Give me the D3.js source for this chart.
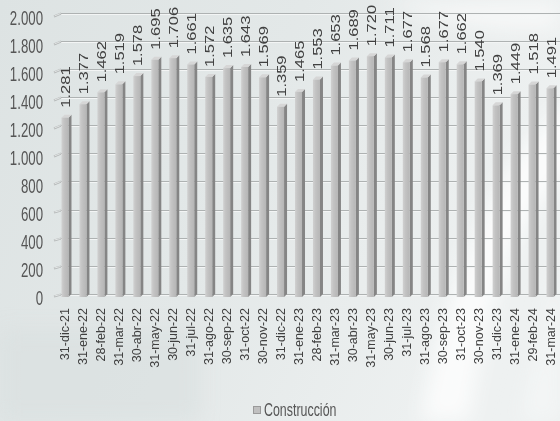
<!DOCTYPE html>
<html><head><meta charset="utf-8">
<script src="https://cdn.jsdelivr.net/npm/d3@7/dist/d3.min.js"></script>
<style>html,body{margin:0;padding:0;background:#e2e7e7;}svg{display:block;}</style>
</head><body>
<script>
const categories = ["31-dic-21","31-ene-22","28-feb-22","31-mar-22","30-abr-22","31-may-22","30-jun-22","31-jul-22","31-ago-22","30-sep-22","31-oct-22","30-nov-22","31-dic-22","31-ene-23","28-feb-23","31-mar-23","30-abr-23","31-may-23","30-jun-23","31-jul-23","31-ago-23","30-sep-23","31-oct-23","30-nov-23","31-dic-23","31-ene-24","29-feb-24","31-mar-24"];
const values = [1281,1377,1462,1519,1578,1695,1706,1661,1572,1635,1643,1569,1359,1465,1553,1653,1689,1720,1711,1677,1568,1677,1662,1540,1369,1449,1518,1491];
const yTicks = [0,200,400,600,800,1000,1200,1400,1600,1800,2000];
const seriesName = "Construcción";

const W = 560, H = 421;
const fmt = v => d3.format(",")(v).replace(/,/g, ".");
const svg = d3.select("body").append("svg").attr("width", W).attr("height", H);
const defs = svg.append("defs");

// background
const bg = defs.append("linearGradient").attr("id","bg").attr("x1",0).attr("y1",0).attr("x2",1).attr("y2",0.3);
bg.append("stop").attr("offset","0%").attr("stop-color","#dde3e3");
bg.append("stop").attr("offset","50%").attr("stop-color","#e3e8e8");
bg.append("stop").attr("offset","100%").attr("stop-color","#eef1f1");
svg.append("rect").attr("width",W).attr("height",H).attr("fill","url(#bg)");
const blur = defs.append("filter").attr("id","blur").attr("x","-50%").attr("y","-50%").attr("width","200%").attr("height","200%");
blur.append("feGaussianBlur").attr("stdDeviation",10);
const bgG = svg.append("g").attr("filter","url(#blur)");
bgG.append("path").attr("d","M600,80 Q470,150 420,421 L470,421 Q500,200 600,150 Z").attr("fill","#fafbfb");
bgG.append("path").attr("d","M380,0 Q470,40 560,30 L560,0 Z").attr("fill","#f7f9f9").attr("opacity",0.8);
bgG.append("path").attr("d","M560,250 Q540,330 520,421 L560,421 Z").attr("fill","#f3f5f5");
bgG.append("rect").attr("x",0).attr("y",330).attr("width",200).attr("height",91).attr("fill","#d9dfdf").attr("opacity",0.6);

// scales
const x = d3.scaleBand().domain(categories).range([56, 559]).paddingInner(0).paddingOuter(0);
const yFront = d3.scaleLinear().domain([0,2000]).range([297, 17]);
const yBack = d3.scaleLinear().domain([0,2000]).range([293.8, 13]);

// gridlines (back wall)
const grid = svg.append("g");
yTicks.forEach(t => {
  const yy = Math.round(yBack(t)) + 0.5;
  grid.append("line").attr("x1",61).attr("x2",W).attr("y1",yy+1).attr("y2",yy+1).attr("stroke","#f3f5f5").attr("stroke-width",1);
  grid.append("line").attr("x1",61).attr("x2",W).attr("y1",yy).attr("y2",yy).attr("stroke","#aeb2b2").attr("stroke-width",1);
  grid.append("line").attr("x1",54).attr("x2",61).attr("y1",yFront(t)-0.5).attr("y2",yy).attr("stroke","#b4b8b8").attr("stroke-width",2);
  grid.append("line").attr("x1",54.5).attr("x2",60.5).attr("y1",yFront(t)-1).attr("y2",yy).attr("stroke","#eef0f0").attr("stroke-width",0.8);
});

// y axis labels
const yAxis = d3.axisLeft(yFront).tickValues(yTicks).tickFormat(fmt).tickSize(0);
const yg = svg.append("g").attr("transform","translate(43,0)").call(yAxis);
yg.select(".domain").remove();
yg.selectAll(".tick text").each(function(d){
  const t = d3.select(this);
  t.attr("x",0).attr("dy",null).attr("y",0)
   .attr("transform",`translate(0,${7})scale(0.68,1)`)
   .attr("text-anchor","end").attr("fill","#555")
   .attr("font-family","'Liberation Sans', Arial, sans-serif").attr("font-size",19.5);
});

// bars
const front = defs.append("linearGradient").attr("id","front").attr("x1",0).attr("x2",1).attr("y1",0).attr("y2",0);
front.append("stop").attr("offset","0%").attr("stop-color","#d0d0d0");
front.append("stop").attr("offset","40%").attr("stop-color","#c2c2c2");
front.append("stop").attr("offset","100%").attr("stop-color","#b6b6b6");
const bars = svg.append("g");
const base = yFront(0);
const dx = 3, dy = 3, hw = 3.5;
categories.forEach((c,i) => {
  const v = values[i];
  const xc = x(c) + x.bandwidth()/2;
  const yt = yFront(v);
  const g = bars.append("g");
  g.append("polygon").attr("points",[[xc+hw,yt],[xc+hw+dx,yt-dy],[xc+hw+dx,base-dy],[xc+hw,base]].join(" ")).attr("fill","#858585");
  g.append("polygon").attr("points",[[xc-hw,yt],[xc-hw+dx,yt-dy],[xc+hw+dx,yt-dy],[xc+hw,yt]].join(" ")).attr("fill","#d6d6d6");
  g.append("rect").attr("x",xc-hw).attr("y",yt).attr("width",hw*2).attr("height",base-yt).attr("fill","url(#front)");
});

// value labels
const labels = svg.append("g").attr("font-family","'Liberation Sans', Arial, sans-serif").attr("font-size",16.5).attr("fill","#404040");
categories.forEach((c,i) => {
  const xc = x(c) + x.bandwidth()/2;
  labels.append("text").attr("transform",`translate(${xc+5.5},${yFront(values[i])-10})rotate(-90)scale(1,0.8)`)
    .attr("text-anchor","start").text(fmt(values[i]));
});

// x axis labels
const xAxis = d3.axisBottom(x).tickSize(0);
const xg = svg.append("g").attr("transform","translate(0,0)").call(xAxis);
xg.select(".domain").remove();
xg.selectAll(".tick").attr("transform", d => `translate(${x(d)+x.bandwidth()/2},0)`);
xg.selectAll(".tick text")
  .attr("x",0).attr("y",0).attr("dy",null)
  .attr("transform","translate(4.5,308)rotate(-90)")
  .attr("text-anchor","end").attr("fill","#404040")
  .attr("font-family","'Liberation Sans', Arial, sans-serif").attr("font-size",12.5);

// legend
const lg = svg.append("g");
lg.append("rect").attr("x",253.5).attr("y",406.5).attr("width",7).attr("height",7).attr("fill","#c0c0c0").attr("stroke","#9a9a9a").attr("stroke-width",1);
lg.append("text").attr("transform","translate(264,416)scale(0.69,1)").attr("font-family","'Liberation Sans', Arial, sans-serif").attr("font-size",18).attr("fill","#555").text(seriesName);
</script>
</body></html>
